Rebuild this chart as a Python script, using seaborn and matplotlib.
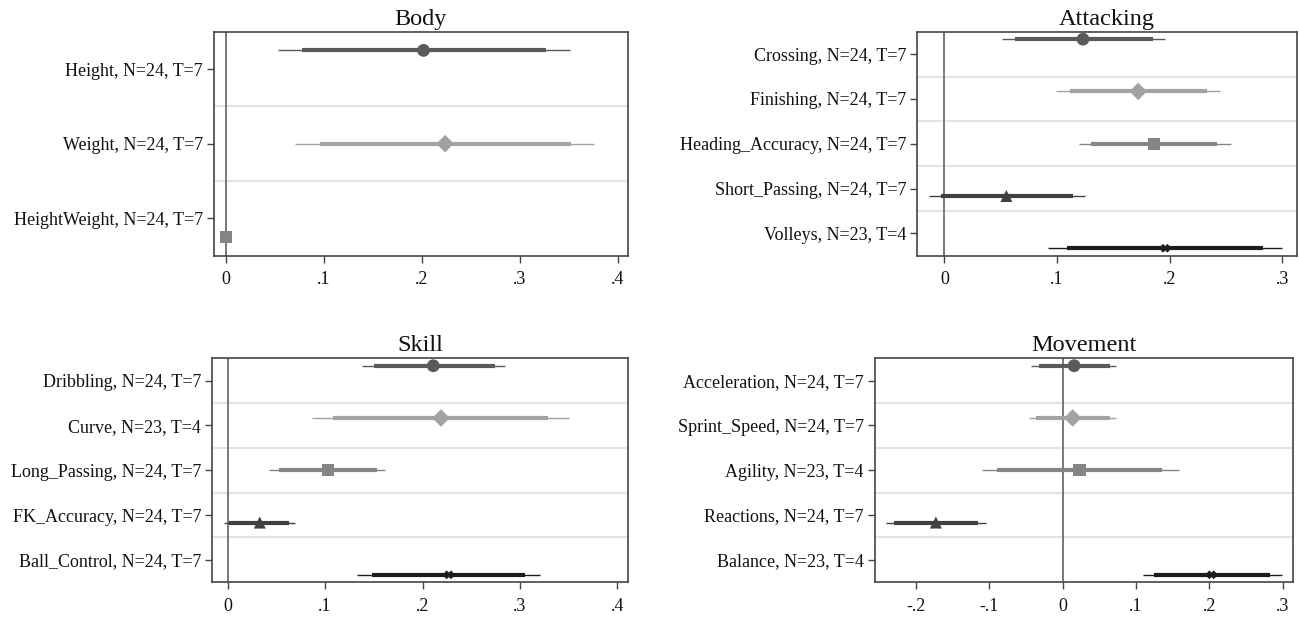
import matplotlib
matplotlib.use("Agg")
import matplotlib.pyplot as plt
import numpy as np
import pandas as pd
import seaborn as sns

# Body
body_labels = ["Height, N=24, T=7", "Weight, N=24, T=7", "HeightWeight, N=24, T=7"]
body_coef = [0.202, 0.224, 0.0005]
body_lo90 = [0.078, 0.096, 0.0003]
body_hi90 = [0.327, 0.352, 0.0007]
body_lo95 = [0.053, 0.071, 0.0001]
body_hi95 = [0.351, 0.376, 0.0009]

# Attacking
attack_labels = ["Crossing, N=24, T=7", "Finishing, N=24, T=7", "Heading_Accuracy, N=24, T=7",
                 "Short_Passing, N=24, T=7", "Volleys, N=23, T=4"]
attack_coef = [0.123, 0.172, 0.186, 0.055, 0.196]
attack_lo90 = [0.063, 0.1115, 0.130, -0.003, 0.109]
attack_hi90 = [0.185, 0.233, 0.242, 0.114, 0.283]
attack_lo95 = [0.051, 0.099, 0.1195, -0.014, 0.092]
attack_hi95 = [0.196, 0.245, 0.254, 0.125, 0.300]

# Skill
skill_labels = ["Dribbling, N=24, T=7", "Curve, N=23, T=4", "Long_Passing, N=24, T=7",
                "FK_Accuracy, N=24, T=7", "Ball_Control, N=24, T=7"]
skill_coef = [0.211, 0.219, 0.103, 0.033, 0.227]
skill_lo90 = [0.150, 0.1085, 0.053, 0.0014, 0.148]
skill_hi90 = [0.274, 0.3285, 0.153, 0.063, 0.305]
skill_lo95 = [0.138, 0.087, 0.043, -0.004, 0.133]
skill_hi95 = [0.285, 0.350, 0.162, 0.069, 0.321]

# Movement
move_labels = ["Acceleration, N=24, T=7", "Sprint_Speed, N=24, T=7", "Agility, N=23, T=4",
               "Reactions, N=24, T=7", "Balance, N=23, T=4"]
move_coef = [0.0155, 0.0136, 0.023, -0.173, 0.203]
move_lo90 = [-0.032, -0.037, -0.089, -0.230, 0.1245]
move_hi90 = [0.064, 0.064, 0.136, -0.116, 0.283]
move_lo95 = [-0.043, -0.0455, -0.1105, -0.241, 0.109]
move_hi95 = [0.073, 0.072, 0.159, -0.105, 0.299]

series_colors = ["#5a5a5a", "#a2a2a2", "#858585", "#404040", "#1c1c1c"]
series_markers = ["o", "D", "s", "^", "X"]
series_sizes = [85, 80, 80, 75, 40]

panels = [
    dict(title="Body", labels=body_labels, coef=body_coef, lo90=body_lo90, hi90=body_hi90,
         lo95=body_lo95, hi95=body_hi95, xlim=(-0.0119, 0.4106),
         ticks=[0, 0.1, 0.2, 0.3, 0.4], ticklabels=["0", ".1", ".2", ".3", ".4"],
         rect=[0.1647, 0.5862, 0.3187, 0.3625]),
    dict(title="Attacking", labels=attack_labels, coef=attack_coef, lo90=attack_lo90, hi90=attack_hi90,
         lo95=attack_lo95, hi95=attack_hi95, xlim=(-0.024, 0.313),
         ticks=[0, 0.1, 0.2, 0.3], ticklabels=["0", ".1", ".2", ".3"],
         rect=[0.7062, 0.5862, 0.2923, 0.3625]),
    dict(title="Skill", labels=skill_labels, coef=skill_coef, lo90=skill_lo90, hi90=skill_hi90,
         lo95=skill_lo95, hi95=skill_hi95, xlim=(-0.0157, 0.411),
         ticks=[0, 0.1, 0.2, 0.3, 0.4], ticklabels=["0", ".1", ".2", ".3", ".4"],
         rect=[0.1634, 0.0578, 0.3202, 0.3625]),
    dict(title="Movement", labels=move_labels, coef=move_coef, lo90=move_lo90, hi90=move_hi90,
         lo95=move_lo95, hi95=move_hi95, xlim=(-0.2564, 0.3145),
         ticks=[-0.2, -0.1, 0, 0.1, 0.2, 0.3], ticklabels=["-.2", "-.1", "0", ".1", ".2", ".3"],
         rect=[0.6734, 0.0578, 0.3222, 0.3625]),
]

sns.set_theme(style="white")
plt.rcParams["font.family"] = ["Liberation Serif", "DejaVu Serif"]

fig = plt.figure(figsize=(12.99, 6.18), dpi=100)

for p in panels:
    ax = fig.add_axes(p["rect"])
    k = len(p["labels"])
    idx = np.arange(k)
    # coefplot style offset: each model sits in its own row, shifted by 1/(k+1)
    offsets = (idx - (k - 1) / 2) / (k + 1)
    df = pd.DataFrame({
        "series": [f"s{i}" for i in idx],
        "coef": p["coef"],
        "ypos": idx + offsets,
        "lo90": p["lo90"], "hi90": p["hi90"],
        "lo95": p["lo95"], "hi95": p["hi95"],
    })

    for i in range(k - 1):
        ax.axhline(i + 0.5, color="#e3e3e3", lw=1.5, zorder=0)
    ax.axvline(0, color="#6e6e6e", lw=1.3, zorder=1)

    for i, row in df.iterrows():
        c = series_colors[i]
        ax.hlines(row["ypos"], row["lo95"], row["hi95"], color=c, lw=1.0, zorder=2)
        ax.hlines(row["ypos"], row["lo90"], row["hi90"], color=c, lw=3.0, zorder=2)

    pal = {f"s{i}": series_colors[i] for i in idx}
    mk = {f"s{i}": series_markers[i] for i in idx}
    sz = {f"s{i}": series_sizes[i] for i in idx}
    sns.scatterplot(data=df, x="coef", y="ypos", hue="series", style="series", size="series",
                    palette=pal, markers=mk, sizes=sz, linewidth=0, legend=False, ax=ax, zorder=3)

    ax.set_xlim(*p["xlim"])
    ax.set_ylim(k - 0.5, -0.5)
    ax.set_yticks(idx)
    ax.set_yticklabels(p["labels"])
    ax.set_xticks(p["ticks"])
    ax.set_xticklabels(p["ticklabels"])
    ax.set_xlabel("")
    ax.set_ylabel("")
    ax.set_title(p["title"], fontsize=17.5, pad=5, color="#111111")
    ax.tick_params(axis="both", which="major", labelsize=13, length=5, width=1,
                   color="#444444", labelcolor="#111111", left=True, bottom=True)
    ax.tick_params(axis="y", pad=3)
    ax.tick_params(axis="x", pad=6)
    for s in ax.spines.values():
        s.set_visible(True)
        s.set_color("#444444")
        s.set_linewidth(1.2)

fig.savefig("out.png", dpi=100)
